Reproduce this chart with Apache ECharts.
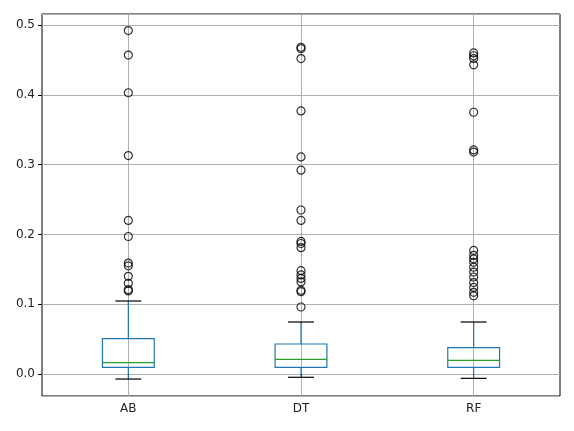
<!DOCTYPE html>
<html><head><meta charset="utf-8">
<script src="https://cdn.jsdelivr.net/npm/echarts@6/dist/echarts.min.js"></script>
<style>html,body{margin:0;padding:0;background:#fff}#c{width:574px;height:431px}</style>
</head><body><div id="c"></div>
<script>
const categories = ['AB', 'DT', 'RF'];
// [lowerWhisker, q1, median, q3, upperWhisker]
const statsAB = [-0.0072, 0.0096, 0.0162, 0.0506, 0.1046];
const statsDT = [-0.0047, 0.0096, 0.0210, 0.0430, 0.0745];
const statsRF = [-0.0062, 0.0096, 0.0196, 0.0377, 0.0745];
const outliersAB = [0.492, 0.457, 0.403, 0.313, 0.220, 0.197, 0.159, 0.155, 0.140, 0.130, 0.121, 0.119];
const outliersDT = [0.468, 0.466, 0.452, 0.377, 0.311, 0.292, 0.235, 0.220, 0.190, 0.187, 0.181, 0.148, 0.142, 0.137, 0.132, 0.120, 0.118, 0.096];
const outliersRF = [0.460, 0.456, 0.452, 0.443, 0.375, 0.321, 0.318, 0.177, 0.170, 0.165, 0.160, 0.153, 0.146, 0.139, 0.131, 0.124, 0.117, 0.112];
const yTicks = [0.0, 0.1, 0.2, 0.3, 0.4, 0.5];

const allStats = [statsAB, statsDT, statsRF];
const allOutliers = [outliersAB, outliersDT, outliersRF];
const boxData = allStats.map((s, i) => [i].concat(s));
const outlierData = [];
allOutliers.forEach((arr, i) => arr.forEach(v => outlierData.push([i, v])));

const chart = echarts.init(document.getElementById('c'));
const FONT = 'DejaVu Sans';
chart.setOption({
  animation: false,
  grid: { left: 42, right: 14, top: 14, bottom: 35, show: true, borderColor: '#000', borderWidth: 1, backgroundColor: 'transparent' },
  xAxis: {
    type: 'category', data: categories,
    axisLine: { show: false },
    axisTick: { show: true, alignWithLabel: true, length: 4, lineStyle: { color: '#000' } },
    axisLabel: { color: '#222', fontFamily: FONT, fontSize: 12, margin: 7 },
    splitLine: { show: true, alignWithLabel: true, lineStyle: { color: '#b0b0b0', width: 1 } }
  },
  yAxis: {
    type: 'value', min: -0.0315, max: 0.5158, splitNumber: 5,
    axisLine: { show: false },
    axisTick: { show: true, length: 4, lineStyle: { color: '#000' } },
    axisLabel: {
      color: '#222', fontFamily: FONT, fontSize: 12, margin: 7,
      showMinLabel: false, showMaxLabel: false,
      formatter: v => yTicks.some(t => Math.abs(t - v) < 1e-6) ? v.toFixed(1) : ''
    },
    splitLine: { show: true, lineStyle: { color: '#b0b0b0', width: 1 } }
  },
  series: [
    {
      type: 'custom',
      data: boxData,
      encode: { x: 0, y: [1, 2, 3, 4, 5] },
      z: 3,
      renderItem: function (params, api) {
        const i = api.value(0);
        const w = api.size([1, 0])[0];
        const bh = w * 0.15, ch = w * 0.075;
        const pLo = api.coord([i, api.value(1)]);
        const pQ1 = api.coord([i, api.value(2)]);
        const pMed = api.coord([i, api.value(3)]);
        const pQ3 = api.coord([i, api.value(4)]);
        const pHi = api.coord([i, api.value(5)]);
        const x = pQ1[0];
        const blue = '#1f77b4';
        const lw = 1.2;
        return {
          type: 'group',
          children: [
            { type: 'line', shape: { x1: x, y1: pQ3[1], x2: x, y2: pHi[1] }, style: { stroke: blue, lineWidth: lw } },
            { type: 'line', shape: { x1: x, y1: pQ1[1], x2: x, y2: pLo[1] }, style: { stroke: blue, lineWidth: lw } },
            { type: 'line', shape: { x1: x - ch, y1: pHi[1], x2: x + ch, y2: pHi[1] }, style: { stroke: '#000', lineWidth: lw } },
            { type: 'line', shape: { x1: x - ch, y1: pLo[1], x2: x + ch, y2: pLo[1] }, style: { stroke: '#000', lineWidth: lw } },
            { type: 'rect', shape: { x: x - bh, y: pQ3[1], width: 2 * bh, height: pQ1[1] - pQ3[1] }, style: { stroke: blue, fill: 'none', lineWidth: lw } },
            { type: 'line', shape: { x1: x - bh, y1: pMed[1], x2: x + bh, y2: pMed[1] }, style: { stroke: '#2ca02c', lineWidth: lw } }
          ]
        };
      }
    },
    {
      type: 'scatter',
      data: outlierData,
      symbol: 'circle',
      symbolSize: 8,
      z: 4,
      itemStyle: { color: 'rgba(0,0,0,0)', borderColor: '#000', borderWidth: 1.2 }
    }
  ]
});
</script></body></html>
